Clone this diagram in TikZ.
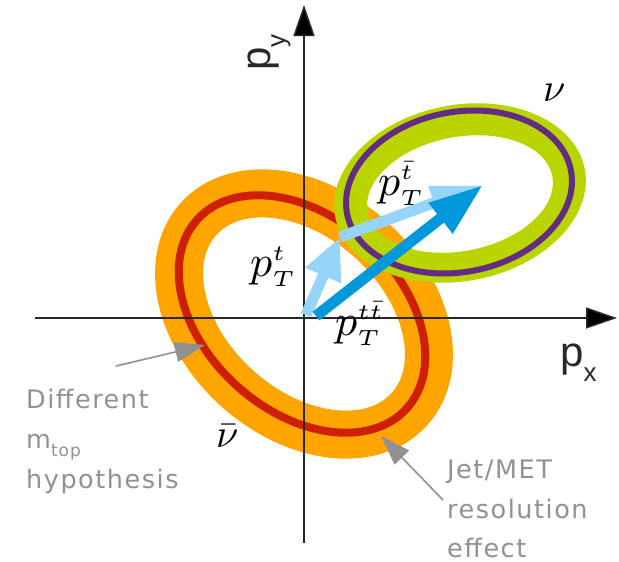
\documentclass[tikz,border=0pt]{standalone}
\usepackage{fontspec}
\usetikzlibrary{arrows.meta}
\newfontfamily\axisfont{Liberation Sans}
\newfontfamily\handfont[LetterSpace=6]{DejaVu Sans}
\definecolor{ringorange}{RGB}{255,165,0}
\definecolor{ringred}{RGB}{206,32,0}
\definecolor{ringgreen}{RGB}{186,212,0}
\definecolor{ringpurple}{RGB}{98,44,130}
\definecolor{darkblue}{RGB}{0,152,218}
\definecolor{lightblue}{RGB}{150,212,252}
\definecolor{pointgray}{RGB}{145,145,145}
\definecolor{axisgray}{RGB}{40,40,40}
\newcommand{\mylblmath}[1]{\scalebox{4.4}{$#1$}}
\newcommand{\mysscr}[1]{{\scriptscriptstyle #1}}
\tikzset{
  axisline/.style={draw=axisgray, line width=1.5pt, -{Triangle[length=31pt,width=21pt,fill=black]}},
  pointer/.style={draw=pointgray, line width=1.6pt, -{Triangle[length=30pt,width=20pt]}},
  hand/.style={text=pointgray, font=\handfont\fontsize{25.5}{30}\selectfont, inner sep=0pt, anchor=base west},
  mathlbl/.style={inner sep=0pt, anchor=base west},
  axlbl/.style={font=\axisfont\fontsize{42}{48}\selectfont, inner sep=0pt, anchor=base west, text=axisgray},
}
\begin{document}
\begin{tikzpicture}[x=1pt,y=-1pt]
\useasboundingbox (0,0) rectangle (619,562);
% orange ring (anti-neutrino)
\draw[ringorange, line width=48pt] (304,314) circle[x radius=142pt, y radius=100pt, rotate=-42];
\draw[ringred, line width=8pt] (302,314) circle[x radius=141pt, y radius=97pt, rotate=-42];
% green ring (neutrino)
\fill[ringgreen, even odd rule]
  (460,193) circle[x radius=127pt, y radius=88pt, rotate=11]
  (460,194) circle[x radius=94pt, y radius=57pt, rotate=11];
\draw[ringpurple, line width=6pt] (459,192) circle[x radius=114pt, y radius=80pt, rotate=11];
% axes
\coordinate (xs) at (35,318);
\coordinate (xe) at (617,318);
\coordinate (ys) at (304,543);
\coordinate (ye) at (304,5);
\draw[axisline] (xs) -- (xe);
\draw[axisline] (ys) -- (ye);
\node[axlbl] (px) at (560,366) {p\raisebox{-15pt}{\fontsize{26}{26}\selectfont x}};
\node[axlbl, rotate=90] (py) at (270,71) {p\raisebox{-15pt}{\fontsize{26}{26}\selectfont y}};
% momentum vectors
\coordinate (O1) at (306,315);
\coordinate (T1) at (340,237);
\coordinate (O2) at (316,316);
\coordinate (T2) at (483,185);
\draw[lightblue, line width=11pt, -{Triangle[length=52pt,width=32pt]}] (T1) -- (T2);
\draw[lightblue, line width=11pt, -{Triangle[length=42pt,width=36pt]}] (O1) -- (T1);
\draw[darkblue, line width=11pt, -{Triangle[length=54pt,width=36pt]}] (O2) -- (T2);
% labels
\node[mathlbl] (lt) at (250,276) {\mylblmath{p_\mysscr{T}^\mysscr{t}}};
\node[mathlbl] (ltb) at (378,195) {\mylblmath{p_\mysscr{T}^\mysscr{\bar t}}};
\node[mathlbl] (ltt) at (335,335) {\mylblmath{p_\mysscr{T}^\mysscr{t\bar t}}};
\node[mathlbl] (nu) at (543,101) {\scalebox{4}{$\nu$}};
\node[mathlbl] (nub) at (216,447) {\scalebox{4}{$\bar\nu$}};
% annotations
\node[hand] (d1) at (26,408) {Different};
\node[hand] (d2) at (26,448) {m\raisebox{-8pt}{\fontsize{17}{17}\selectfont top}};
\node[hand] (d3) at (26,488) {hypothesis};
\node[hand] (j1) at (447,478) {Jet/MET};
\node[hand] (j2) at (447,518) {resolution};
\node[hand] (j3) at (447,557) {effect};
\coordinate (g1s) at (116,366);
\coordinate (g1e) at (205,345);
\coordinate (g2s) at (443,500);
\coordinate (g2e) at (381,436);
\draw[pointer] (g1s) -- (g1e);
\draw[pointer] (g2s) -- (g2e);
\end{tikzpicture}
\end{document}
